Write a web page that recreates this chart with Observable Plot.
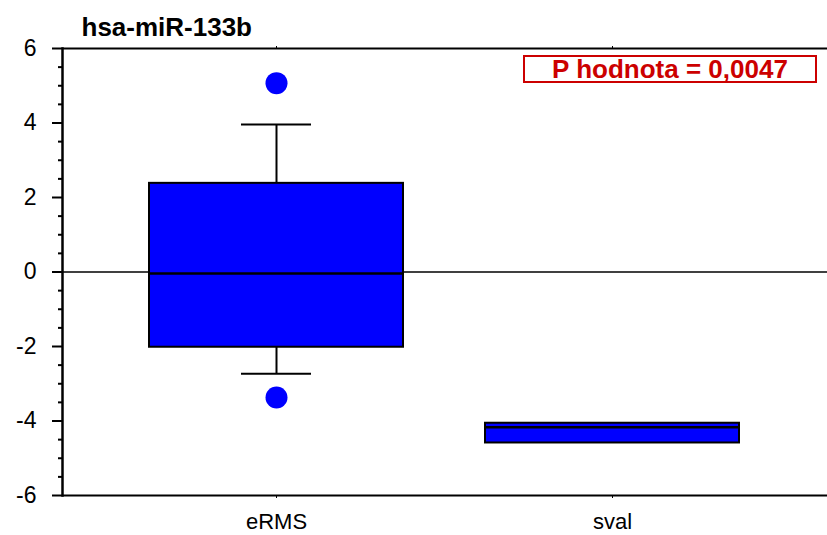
<!DOCTYPE html>
<html><head><meta charset="utf-8">
<script src="https://cdn.jsdelivr.net/npm/d3@7"></script>
<script src="https://cdn.jsdelivr.net/npm/@observablehq/plot@0.6"></script>
<style>
body{margin:0;background:#fff;font-family:"Liberation Sans",Arial,sans-serif;}
#wrap{position:relative;width:827px;height:535px;}
#wrap svg{display:block;}
#pbox{position:absolute;left:523px;top:55px;width:290px;height:24px;border:2px solid #cc0000;color:#cc0000;font-weight:bold;font-size:26px;line-height:25px;text-align:center;white-space:nowrap;}
</style></head><body>
<div id="wrap"><div id="pbox"></div></div>
<script>
const categories = ["eRMS", "sval"];
const q1 = [-2.02, -4.59];
const median = [-0.04, -4.17];
const q3 = [2.38, -4.06];
const whiskerLow = [-2.73, null];
const whiskerHigh = [3.96, null];
const outlierGroup = ["eRMS", "eRMS"];
const outlierValue = [5.07, -3.37];
const yMajorTicks = [-6, -4, -2, 0, 2, 4, 6];
const yMinorTicks = [-5.5, -5, -4.5, -3.5, -3, -2.5, -1.5, -1, -0.5, 0.5, 1, 1.5, 2.5, 3, 3.5, 4.5, 5, 5.5];
const title = "hsa-miR-133b";
const pValueLabel = "P hodnota = 0,0047";

document.getElementById("pbox").textContent = pValueLabel;

const boxes = categories.map((c, i) => ({cat: c, q1: q1[i], med: median[i], q3: q3[i], lo: whiskerLow[i], hi: whiskerHigh[i]}));
const whisk = boxes.filter(d => d.lo != null);
const outl = outlierGroup.map((c, i) => ({cat: c, v: outlierValue[i]}));

const chart = Plot.plot({
  width: 827, height: 535,
  marginLeft: 62, marginRight: 0, marginTop: 48, marginBottom: 40,
  style: {fontFamily: "'Liberation Sans', Arial, sans-serif", background: "white", color: "black"},
  x: {type: "band", domain: categories, paddingInner: 0.244, paddingOuter: 0.26, axis: null, label: null},
  y: {domain: [-6, 6], axis: null, label: null},
  marks: [
    Plot.ruleY([0], {stroke: "black", strokeWidth: 1.5}),
    Plot.ruleX(whisk, {x: "cat", y1: "q3", y2: "hi", stroke: "black", strokeWidth: 2}),
    Plot.ruleX(whisk, {x: "cat", y1: "lo", y2: "q1", stroke: "black", strokeWidth: 2}),
    Plot.tickY(whisk, {x: "cat", y: "hi", insetLeft: 92, insetRight: 92, stroke: "black", strokeWidth: 2}),
    Plot.tickY(whisk, {x: "cat", y: "lo", insetLeft: 92, insetRight: 92, stroke: "black", strokeWidth: 2}),
    Plot.barY(boxes, {x: "cat", y1: "q1", y2: "q3", fill: "#0000ff", stroke: "black", strokeWidth: 2}),
    Plot.tickY(boxes, {x: "cat", y: "med", stroke: "black", strokeWidth: 2.5}),
    Plot.dot(outl, {x: "cat", y: "v", r: 11, fill: "#0000ff"}),
    Plot.ruleY([6, -6], {stroke: "black", strokeWidth: 2}),
    Plot.frame({anchor: "left", stroke: "black", strokeWidth: 2.5}),
    Plot.axisY(yMajorTicks, {tickSize: 10, tickPadding: 16, fontSize: 23, tickFormat: d => String(d), label: null, strokeWidth: 2, stroke: "black", fill: "black"}),
    Plot.axisY(yMinorTicks, {tickSize: 4, text: null, label: null, strokeWidth: 2, stroke: "black"}),
    Plot.axisX(categories, {anchor: "bottom", tickSize: 3, tickPadding: 15, fontSize: 22, label: null, stroke: "black", fill: "black"}),
    Plot.axisX(categories, {anchor: "top", tickSize: 3, text: null, label: null, stroke: "black"}),
    Plot.text([title], {frameAnchor: "top-left", dx: 19, dy: -13, textAnchor: "start", lineAnchor: "bottom", fontWeight: "bold", fontSize: 26, fill: "black"})
  ]
});
document.getElementById("wrap").appendChild(chart);
</script>
</body></html>
